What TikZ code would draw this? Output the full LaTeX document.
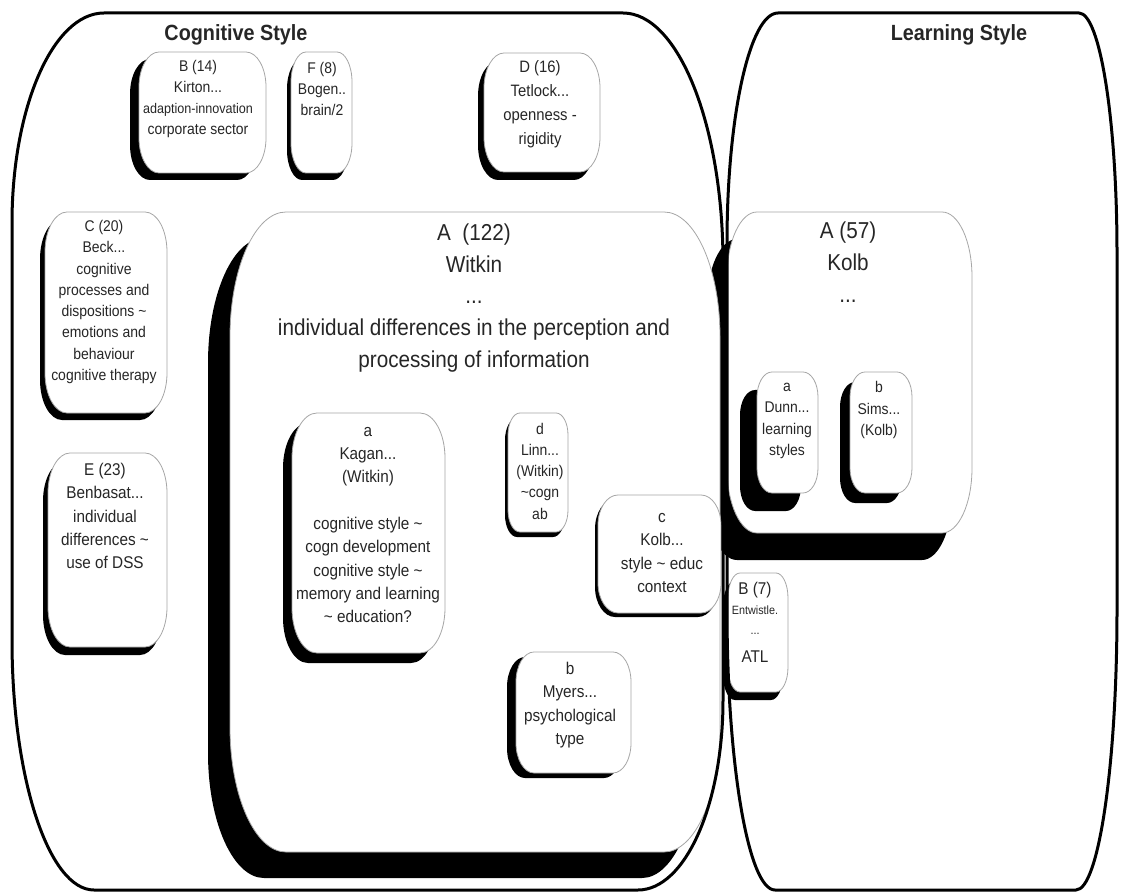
\documentclass[tikz,border=0pt]{standalone}
\usepackage{fontspec}
\setmainfont{Liberation Sans}[FakeStretch=0.9]
\newcommand\tld{\textasciitilde}
% rounded box with elliptical corners: x1,y1,x2,y2,rx,ry
\newcommand\ovalpath[6]{%
  ({#1+#5},#2) -- ({#3-#5},#2)
  .. controls ({#3-0.4477*#5},#2) and (#3,{#2+0.4477*#6}) .. (#3,{#2+#6})
  -- (#3,{#4-#6})
  .. controls (#3,{#4-0.4477*#6}) and ({#3-0.4477*#5},#4) .. ({#3-#5},#4)
  -- ({#1+#5},#4)
  .. controls ({#1+0.4477*#5},#4) and (#1,{#4-0.4477*#6}) .. (#1,{#4-#6})
  -- (#1,{#2+#6})
  .. controls (#1,{#2+0.4477*#6}) and ({#1+0.4477*#5},#2) .. ({#1+#5},#2) -- cycle}
% black drop shadow of a box, moved by dx,dy
\newcommand\boxshadow[8]{%
  \fill[shadowfill, shift={(#7,#8)}] \ovalpath{#1}{#2}{#3}{#4}{#5}{#6};}
\newcommand\boxbody[6]{%
  \filldraw[boxline] \ovalpath{#1}{#2}{#3}{#4}{#5}{#6};}
\newcommand\shadedbox[8]{\boxshadow{#1}{#2}{#3}{#4}{#5}{#6}{#7}{#8}\boxbody{#1}{#2}{#3}{#4}{#5}{#6}}

\begin{document}
\begin{tikzpicture}[x=1pt,y=-1pt,
  frame/.style={draw=black, line width=3pt, line join=round},
  shadowfill/.style={fill=black},
  boxline/.style={draw=black!35, fill=white, line width=0.8pt},
  txt/.style={align=center, text=black!85, inner sep=0pt},
  ttl/.style={font=\fontsize{22}{26}\selectfont\bfseries},
  big/.style={font=\fontsize{23}{31.75}\selectfont},
  md/.style={font=\fontsize{17}{23.3}\selectfont},
  sm/.style={font=\fontsize{15.5}{21.25}\selectfont},
  tiny/.style={font=\fontsize{12}{14}\selectfont}]
\useasboundingbox (0,0) rectangle (1125,893);

% shadow of the Kolb group reaches under the Witkin group
\boxshadow{727}{212}{972}{533}{30}{65}{-20}{27}

% Witkin group and its members
\shadedbox{230}{212}{720}{852}{56}{125}{-22}{26}
\shadedbox{292}{413}{445}{653}{25}{45}{-9}{10}
\shadedbox{508}{413}{568}{532}{12}{22}{-3}{5}
\shadedbox{598}{495}{721}{613}{20}{30}{-3}{4}
\shadedbox{516}{652}{631}{773}{18}{30}{-9}{5}

% other cognitive style groups
\shadedbox{139}{52}{266}{173}{20}{35}{-9}{7}
\shadedbox{291}{52}{352}{173}{15}{30}{-4}{7}
\shadedbox{484}{53}{600}{172}{20}{35}{-6}{8}
\shadedbox{45}{212}{167}{413}{22}{40}{-5}{7}
\shadedbox{48}{453}{167}{647}{22}{40}{-5}{8}

% learning style groups
\boxbody{727}{212}{972}{533}{30}{65}
\shadedbox{757}{372}{818}{493}{15}{25}{-17}{18}
\shadedbox{850}{372}{912}{493}{15}{25}{-10}{10}
\shadedbox{728}{573}{788}{692}{12}{25}{-5}{8}

% the two style frames
\draw[frame] (104,13) -- (623,13)
  .. controls ({623+0.5523*100},13) and (723,{263-0.5523*250}) .. (723,263)
  -- (723,700)
  .. controls (723,{700+0.5523*190}) and ({638+0.5523*85},890) .. (638,890)
  -- (94,890)
  .. controls ({94-0.5523*82},890) and (12,{640+0.5523*250}) .. (12,640)
  -- (12,223)
  .. controls (12,{223-0.5523*210}) and ({104-0.5523*92},13) .. (104,13) -- cycle;
\draw[frame] (778,13) -- (1079,13)
  .. controls ({1079+0.5523*38},13) and (1117,{253-0.5523*240}) .. (1117,253)
  -- (1117,610)
  .. controls (1117,{610+0.5523*280}) and ({1076+0.5523*41},890) .. (1076,890)
  -- (775,890)
  .. controls ({775-0.5523*48},890) and (727,{610+0.5523*280}) .. (727,610)
  -- (727,243)
  .. controls (727,{243-0.5523*230}) and ({778-0.5523*51},13) .. (778,13) -- cycle;

% titles
\node[txt, ttl] (cogtitle) at (236,35) {Cognitive Style};
\node[txt, ttl] (learntitle) at (959,35) {Learning Style};

% cognitive style texts
\node[txt, sm] (tB) at (198,99) {B (14)\\Kirton...\\{\fontsize{14}{21.25}\selectfont adaption-innovation}\\corporate sector};
\node[txt, sm] (tF) at (322,89) {F (8)\\Bogen..\\brain/2};
\node[txt, font=\fontsize{16.5}{24}\selectfont] (tD) at (540,104) {D (16)\\Tetlock...\\openness -\\rigidity};
\node[txt, sm] (tC) at (104,302) {C (20)\\Beck...\\cognitive\\processes and\\dispositions \tld\\emotions and\\behaviour\\cognitive therapy};
\node[txt, md] (tE) at (105,516) {E (23)\\Benbasat...\\individual\\differences \tld\\use of DSS};
\node[txt, big] (tA1) at (474,298) {A\enspace(122)\\Witkin\\...\\individual differences in the perception and\\processing of information};
\node[txt, md] (ta1) at (368,525) {a\\Kagan...\\(Witkin)\\[23.3pt]cognitive style \tld\\cogn development\\cognitive style \tld\\memory and learning\\\tld{} education?};
\node[txt, sm] (td1) at (540,471) {d\\Linn...\\(Witkin)\\\tld cogn\\ab};
\node[txt, md] (tc1) at (662,553) {c\\Kolb...\\style \tld{} educ\\context};
\node[txt, md] (tb1) at (570,705) {b\\Myers...\\psychological\\type};

% learning style texts
\node[txt, big] (tA2) at (848,262) {A (57)\\Kolb\\...};
\node[txt, sm] (ta2) at (787,421) {a\\Dunn...\\learning\\styles};
\node[txt, sm] (tb2) at (879,410) {b\\Sims...\\(Kolb)};
\node[txt, md] (tB7a) at (755,590) {B (7)};
\node[txt, tiny] (tB7b) at (755,610) {Entwistle.};
\node[txt, tiny] (tB7c) at (755,634) {...};
\node[txt, md] (tB7d) at (755,657) {ATL};
\end{tikzpicture}
\end{document}
